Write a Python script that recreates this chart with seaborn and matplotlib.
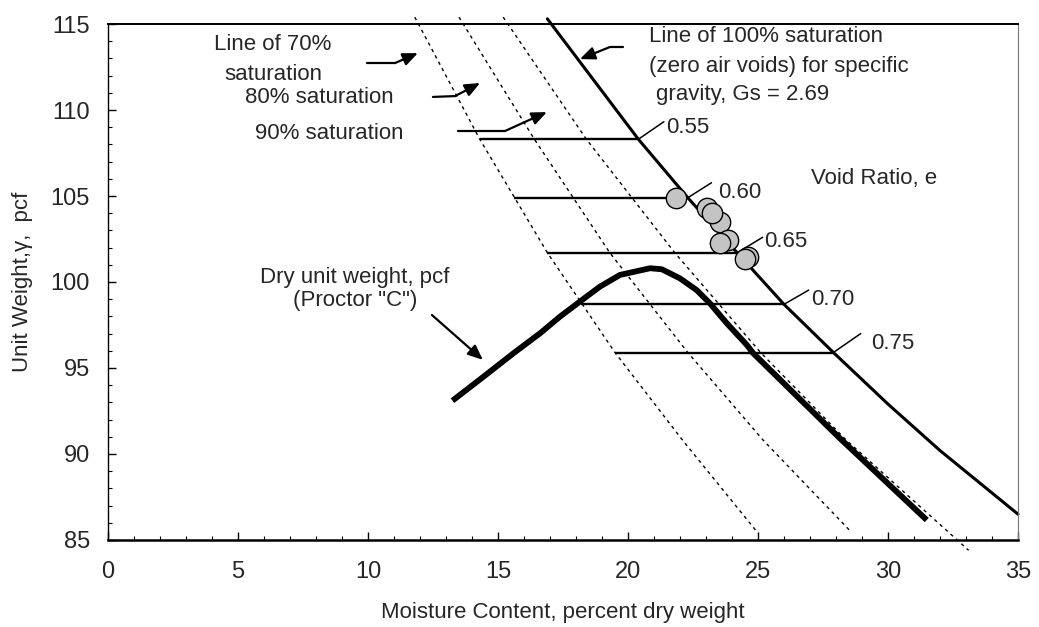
import numpy as np
import pandas as pd
import matplotlib
matplotlib.use("Agg")
import matplotlib.pyplot as plt
import seaborn as sns

# --- data -------------------------------------------------------------
# zero air voids (100 % saturation), Gs = 2.69
zav_w = [16.9, 18.1, 20.4, 22.3, 24.2, 26.0, 27.9, 30.0, 32.0, 35.0]
zav_gamma = [115.3, 112.9, 108.3, 104.9, 101.7, 98.7, 95.9, 92.9, 90.2, 86.5]

# partial saturation lines
sat_gamma = [115.4, 108.3, 101.7, 95.9, 90.8]
sat70_w = [11.8, 14.3, 16.9, 19.5, 22.1, 25.0]
sat70_gamma = sat_gamma + [85.4]
sat80_w = [13.5, 16.4, 19.3, 22.3, 25.2, 28.5]
sat80_gamma = sat_gamma + [85.6]
sat90_w = [15.2, 18.4, 21.8, 25.1, 28.4, 33.1]
sat90_gamma = sat_gamma + [84.4]

# Proctor "C" compaction curve
dry_w = [13.25, 14.44, 15.59, 16.62, 17.38, 18.15, 18.92, 19.69, 20.85, 21.3,
         22.0, 22.64, 23.15, 23.8, 24.57, 24.82, 28.15, 31.49]
dry_gamma = [93.1, 94.49, 95.85, 97.02, 97.98, 98.86, 99.73, 100.41, 100.8, 100.74,
             100.21, 99.53, 98.76, 97.6, 96.34, 95.85, 90.91, 86.16]

# void ratio levels
void_labels = ["0.55", "0.60", "0.65", "0.70", "0.75"]
void_gamma = [108.3, 104.9, 101.7, 98.7, 95.9]
void_w_start = [14.3, 15.6, 16.9, 18.2, 19.5]
void_w_end = [20.4, 22.3, 24.2, 26.0, 27.9]

# test points
test_w = [23.03, 23.54, 23.22, 23.86, 23.54, 24.63, 24.50, 21.85]
test_gamma = [104.28, 103.51, 103.99, 102.44, 102.25, 101.47, 101.32, 104.87]

x_ticks = [0, 5, 10, 15, 20, 25, 30, 35]
y_ticks = [85, 90, 95, 100, 105, 110, 115]

# --- figure -----------------------------------------------------------
sns.set_theme(style="white")
plt.rcParams["font.family"] = ["Liberation Sans", "DejaVu Sans"]
FS = 16

fig = plt.figure(figsize=(10.39, 6.27), dpi=100)
ax = fig.add_axes([0.1039, 0.1388, 0.8759, 0.8229])

dot = (0, (2.4, 2.8))
for w, g in [(sat70_w, sat70_gamma), (sat80_w, sat80_gamma), (sat90_w, sat90_gamma)]:
    sns.lineplot(x=w, y=g, ax=ax, sort=False, estimator=None, color="black",
                 lw=1.0, linestyle=dot)
    ax.lines[-1].set_clip_on(False)

sns.lineplot(x=zav_w, y=zav_gamma, ax=ax, sort=False, estimator=None,
             color="black", lw=2.2)
ax.lines[-1].set_clip_on(False)

ax.hlines(void_gamma, void_w_start, void_w_end, colors="black", lw=1.7, zorder=3)

sns.lineplot(x=dry_w, y=dry_gamma, ax=ax, sort=False, estimator=None,
             color="black", lw=4.2, solid_capstyle="butt")

sns.scatterplot(x=test_w, y=test_gamma, ax=ax, s=215, color="#c4c4c4",
                edgecolor="black", linewidth=1.0, zorder=6, legend=False)

# void ratio labels with leaders
lab_pos = [(21.48, 108.68), (23.48, 104.87), (25.24, 102.05), (27.04, 98.66), (29.37, 96.1)]
lead_end = [(21.38, 109.32), (23.21, 105.77), (25.18, 102.6), (26.95, 99.53), (28.95, 97.0)]
for lab, (tx, ty), (lx, ly), x0, y0 in zip(void_labels, lab_pos, lead_end, void_w_end, void_gamma):
    ax.plot([x0, lx], [y0, ly], color="black", lw=1.1)
    ax.text(tx, ty, lab, fontsize=FS, ha="left", va="baseline")

ax.text(27.04, 105.68, "Void Ratio, e", fontsize=FS, ha="left", va="baseline")

# saturation line labels
ax.text(6.35, 113.49, "Line of 70%", fontsize=FS, ha="center", va="baseline")
ax.text(6.35, 111.74, "saturation", fontsize=FS, ha="center", va="baseline")
ax.text(5.27, 110.43, "80% saturation", fontsize=FS, ha="left", va="baseline")
ax.text(5.65, 108.30, "90% saturation", fontsize=FS, ha="left", va="baseline")

ax.text(20.8, 113.97, "Line of 100% saturation", fontsize=FS, ha="left", va="baseline")
ax.text(20.8, 112.23, "(zero air voids) for specific", fontsize=FS, ha="left", va="baseline")
ax.text(21.08, 110.58, "gravity, Gs = 2.69", fontsize=FS, ha="left", va="baseline")

ax.text(9.5, 99.94, "Dry unit weight, pcf", fontsize=FS, ha="center", va="baseline")
ax.text(9.5, 98.6, "(Proctor \"C\")", fontsize=FS, ha="center", va="baseline")

# bent arrows: tail -> bend -> head
arrows = [
    ((9.96, 112.73), (11.04, 112.73), (11.92, 113.31)),
    ((12.5, 110.76), (13.35, 110.81), (14.31, 111.57)),
    ((13.46, 108.78), (15.27, 108.78), (16.88, 109.88)),
    ((19.8, 113.66), (19.3, 113.66), (18.15, 112.96)),
    ((12.46, 98.08), (12.46, 98.08), (14.42, 95.47)),
]
for tail, bend, head in arrows:
    ax.plot([tail[0], bend[0]], [tail[1], bend[1]], color="black", lw=1.6)
    ax.annotate("", xy=head, xytext=bend,
                arrowprops=dict(arrowstyle="-|>,head_length=0.75,head_width=0.32",
                                color="black", lw=1.6, shrinkA=0, shrinkB=0))

# --- axes -------------------------------------------------------------
ax.set_xlim(0, 35)
ax.set_ylim(85, 115)
ax.set_xticks(x_ticks)
ax.set_yticks(y_ticks)
ax.set_xticks(np.arange(0, 36, 1), minor=True)
ax.set_yticks(np.arange(85, 116, 1), minor=True)
ax.tick_params(axis="both", which="major", direction="in", length=6, width=1,
               color="black", labelsize=17, pad=15, bottom=True, left=True)
ax.tick_params(axis="y", which="major", pad=13)
ax.tick_params(axis="both", which="minor", direction="in", length=3, width=0.8,
               color="black", bottom=True, left=True)

ax.set_xlabel("Moisture Content, percent dry weight", fontsize=FS)
ax.set_ylabel("Unit Weight,\u03b3,  pcf", fontsize=FS)
ax.xaxis.set_label_coords(0.5, -0.12)
ax.yaxis.set_label_coords(-0.082, 0.5)

for side, lw, col in [("left", 1.0, "black"), ("bottom", 1.8, "black"),
                      ("top", 1.4, "black"), ("right", 0.8, "#777777")]:
    ax.spines[side].set_visible(True)
    ax.spines[side].set_linewidth(lw)
    ax.spines[side].set_color(col)

fig.savefig("out.png", dpi=100)
